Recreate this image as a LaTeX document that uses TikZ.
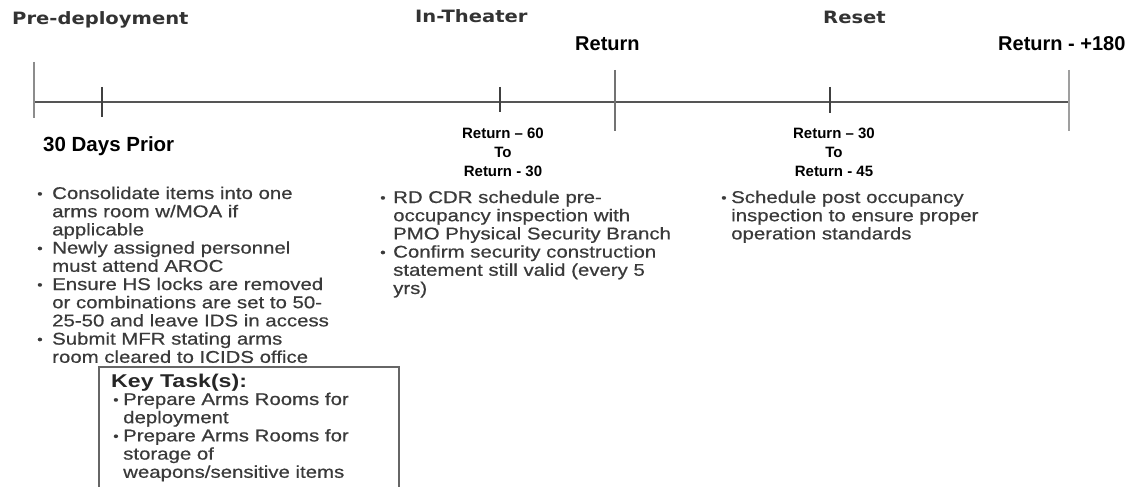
\documentclass[tikz,border=0pt]{standalone}
\usepackage{fontspec}
\setmainfont{Liberation Sans}
\newfontfamily\bodyfont{Liberation Sans}[FakeStretch=1.2,FakeBold=0.6]
\newfontfamily\keyfont{Liberation Sans}[FakeStretch=1.25]
\newfontfamily\hdrfont{DejaVu Sans}[FakeStretch=1.15]
\definecolor{bodygray}{HTML}{3a3a3a}
\definecolor{hdrgray}{HTML}{333333}
\definecolor{linegray}{HTML}{555555}
\newcommand\bul[1]{\makebox[#1][l]{\raisebox{0.8pt}{\fontsize{13}{13}\selectfont •}}}
\tikzset{
  hdr/.style={anchor=base west, inner sep=0pt, text=hdrgray, font=\hdrfont\bfseries\fontsize{17}{20}\selectfont},
  biglbl/.style={anchor=base west, inner sep=0pt, text=black, font=\bfseries\fontsize{20}{24}\selectfont},
  rangelbl/.style={anchor=base, inner sep=0pt, text=black, align=center, font=\bfseries\fontsize{15}{19}\selectfont},
  bodytxt/.style={anchor=base west, inner sep=0pt, text=bodygray},
  mainline/.style={draw=linegray, line width=1.5pt},
  bigtick/.style={draw=gray!90, line width=2.4pt},
  smalltick/.style={draw=black!75, line width=1.3pt},
  keybox/.style={draw=black!60, line width=1.5pt}
}
\begin{document}
\begin{tikzpicture}[x=1pt,y=-1pt]
\useasboundingbox (0,0) rectangle (1136,487);
\clip (0,0) rectangle (1136,487);
% timeline
\coordinate (L) at (34,102);
\coordinate (R) at (1069,102);
\draw[mainline] (L) -- (R);
\draw[bigtick] (34,62) coordinate (t0a) -- (34,118) coordinate (t0b);
\draw[smalltick] (102,87) coordinate (t1a) -- (102,117) coordinate (t1b);
\draw[smalltick] (500,87) coordinate (t2a) -- (500,112) coordinate (t2b);
\draw[bigtick, draw=gray!110] (615,70) coordinate (t3a) -- (615,131) coordinate (t3b);
\draw[smalltick] (830,87) coordinate (t4a) -- (830,113) coordinate (t4b);
\draw[bigtick, draw=gray!75] (1069,70) coordinate (t5a) -- (1069,131) coordinate (t5b);
% headers
\node[hdr] (pre) at (12,25) {Pre-deployment};
\node[hdr] (inth) at (415,23) {In-Theater};
\node[hdr] (reset) at (823,24) {Reset};
\node[biglbl] (ret) at (575,51) {Return};
\node[biglbl] (ret180) at (998,51) {Return - +180};
\node[biglbl, font=\bfseries\fontsize{20.5}{24}\selectfont] (prior) at (43,151) {30 Days Prior};
\node[rangelbl] (r60) at (503,176) {Return – 60\\To\\Return - 30};
\node[rangelbl] (r30) at (834,176) {Return – 30\\To\\Return - 45};
% bullet columns
\node[bodytxt] (col1) at (37,199) {\parbox[t]{400pt}{\bodyfont\fontsize{17}{18.2}\selectfont
\bul{15pt}Consolidate items into one\\
\hspace*{15pt}arms room w/MOA if\\
\hspace*{15pt}applicable\\
\bul{15pt}Newly assigned personnel\\
\hspace*{15pt}must attend AROC\\
\bul{15pt}Ensure HS locks are removed\\
\hspace*{15pt}or combinations are set to 50-\\
\hspace*{15pt}25-50 and leave IDS in access\\
\bul{15pt}Submit MFR stating arms\\
\hspace*{15pt}room cleared to ICIDS office}};
\node[bodytxt] (col2) at (380,203) {\parbox[t]{400pt}{\bodyfont\fontsize{17}{18.2}\selectfont
\bul{13pt}RD CDR schedule pre-\\
\hspace*{13pt}occupancy inspection with\\
\hspace*{13pt}PMO Physical Security Branch\\
\bul{13pt}Confirm security construction\\
\hspace*{13pt}statement still valid (every 5\\
\hspace*{13pt}yrs)}};
\node[bodytxt] (col3) at (721,203) {\parbox[t]{400pt}{\bodyfont\fontsize{17}{18.2}\selectfont
\bul{10pt}Schedule post occupancy\\
\hspace*{10pt}inspection to ensure proper\\
\hspace*{10pt}operation standards}};
% key task box
\draw[keybox] (99,495) coordinate (kb1) -- (99,367) coordinate (kb2) -- (399,367) coordinate (kb3) -- (399,495) coordinate (kb4);
\node[anchor=base west, inner sep=0pt, text=black!85, font=\keyfont\bfseries\fontsize{18.5}{20}\selectfont] (keyt) at (111,387) {Key Task(s):};
\node[bodytxt] (keyl) at (113,405) {\parbox[t]{300pt}{\bodyfont\fontsize{17}{18.2}\selectfont
\bul{10pt}Prepare Arms Rooms for\\
\hspace*{10pt}deployment\\
\bul{10pt}Prepare Arms Rooms for\\
\hspace*{10pt}storage of\\
\hspace*{10pt}weapons/sensitive items}};
\end{tikzpicture}
\end{document}
